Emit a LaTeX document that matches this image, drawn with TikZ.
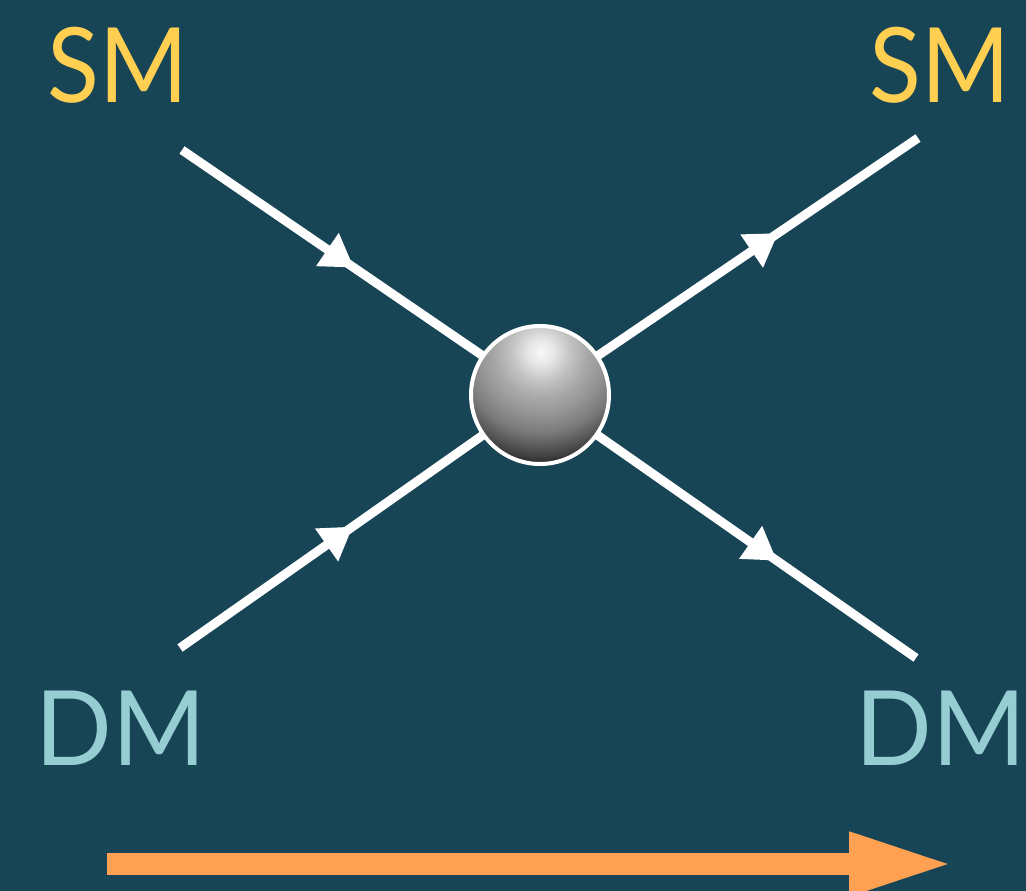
\documentclass[tikz,border=0pt]{standalone}
\usepackage{fontspec}
\setmainfont{Lato}
\usetikzlibrary{arrows.meta,decorations.markings}
\definecolor{bg}{HTML}{174555}
\definecolor{smcol}{HTML}{FFCF52}
\definecolor{dmcol}{HTML}{96CDD3}
\definecolor{orng}{HTML}{FFA052}
\definecolor{sA}{HTML}{F8F8F8}
\definecolor{sB}{HTML}{E6E6E6}
\definecolor{sC}{HTML}{C2C2C2}
\definecolor{sD}{HTML}{A8A8A8}
\definecolor{sE}{HTML}{959595}
\definecolor{sF}{HTML}{7A7A7A}
\definecolor{sG}{HTML}{4E4E4E}
\definecolor{sH}{HTML}{2E2E2E}
\pgfdeclareradialshading{sph}{\pgfpoint{0bp}{0bp}}{color(0bp)=(sA); color(2.8bp)=(sB); color(6.5bp)=(sC); color(10bp)=(sD); color(13.5bp)=(sE); color(17.5bp)=(sF); color(21.5bp)=(sG); color(24bp)=(sH); color(50bp)=(sH)}
\tikzset{
  lbl/.style={inner sep=0pt, text height=75pt, text depth=0pt, font=\fontsize{104}{104}\selectfont},
  fline/.style={draw=white, line width=9pt},
  fin/.style={fline, postaction={decorate}, decoration={markings, mark=at position 0.48 with {\arrow[white]{Triangle[length=32pt 0, width=38pt 0]}}}},
  fout/.style={fline, postaction={decorate}, decoration={markings, mark=at position 0.63 with {\arrow[white]{Triangle[length=32pt 0, width=38pt 0]}}}},
}
\begin{document}
\begin{tikzpicture}[x=1pt,y=-1pt]
\fill[bg] (0,0) rectangle (1026,891);
\useasboundingbox (0,0) rectangle (1026,891);
\node[lbl, text=smcol] (sml) at (118,65) {\scalebox{0.92}[1]{SM}};
\node[lbl, text=smcol] (smr) at (940,65) {\scalebox{0.92}[1]{SM}};
\node[lbl, text=dmcol] (dml) at (121,728) {\scalebox{0.97}[1]{DM}};
\node[lbl, text=dmcol] (dmr) at (941,728) {\scalebox{0.97}[1]{DM}};
\coordinate (c) at (540,395);
\coordinate (hl) at (541,352);
\coordinate (p1) at (182,150);
\coordinate (p2) at (180,648);
\coordinate (p3) at (918,138);
\coordinate (p4) at (916,658);
\draw[fin] (p1) -- (c);
\draw[fin] (p2) -- (c);
\draw[fout] (c) -- (p3);
\draw[fout] (c) -- (p4);
\begin{scope}
  \clip (c) circle (69);
  \shade[shading=sph] (hl) circle (115);
\end{scope}
\node[circle, minimum size=138pt, inner sep=0pt, draw=white, line width=4pt] (v) at (c) {};
\coordinate (t0) at (107,864);
\coordinate (t1) at (954,864);
\draw[orng, line width=22pt, -{Triangle[length=105pt 0, width=58pt 0]}] (t0) -- (t1);
\end{tikzpicture}
\end{document}
